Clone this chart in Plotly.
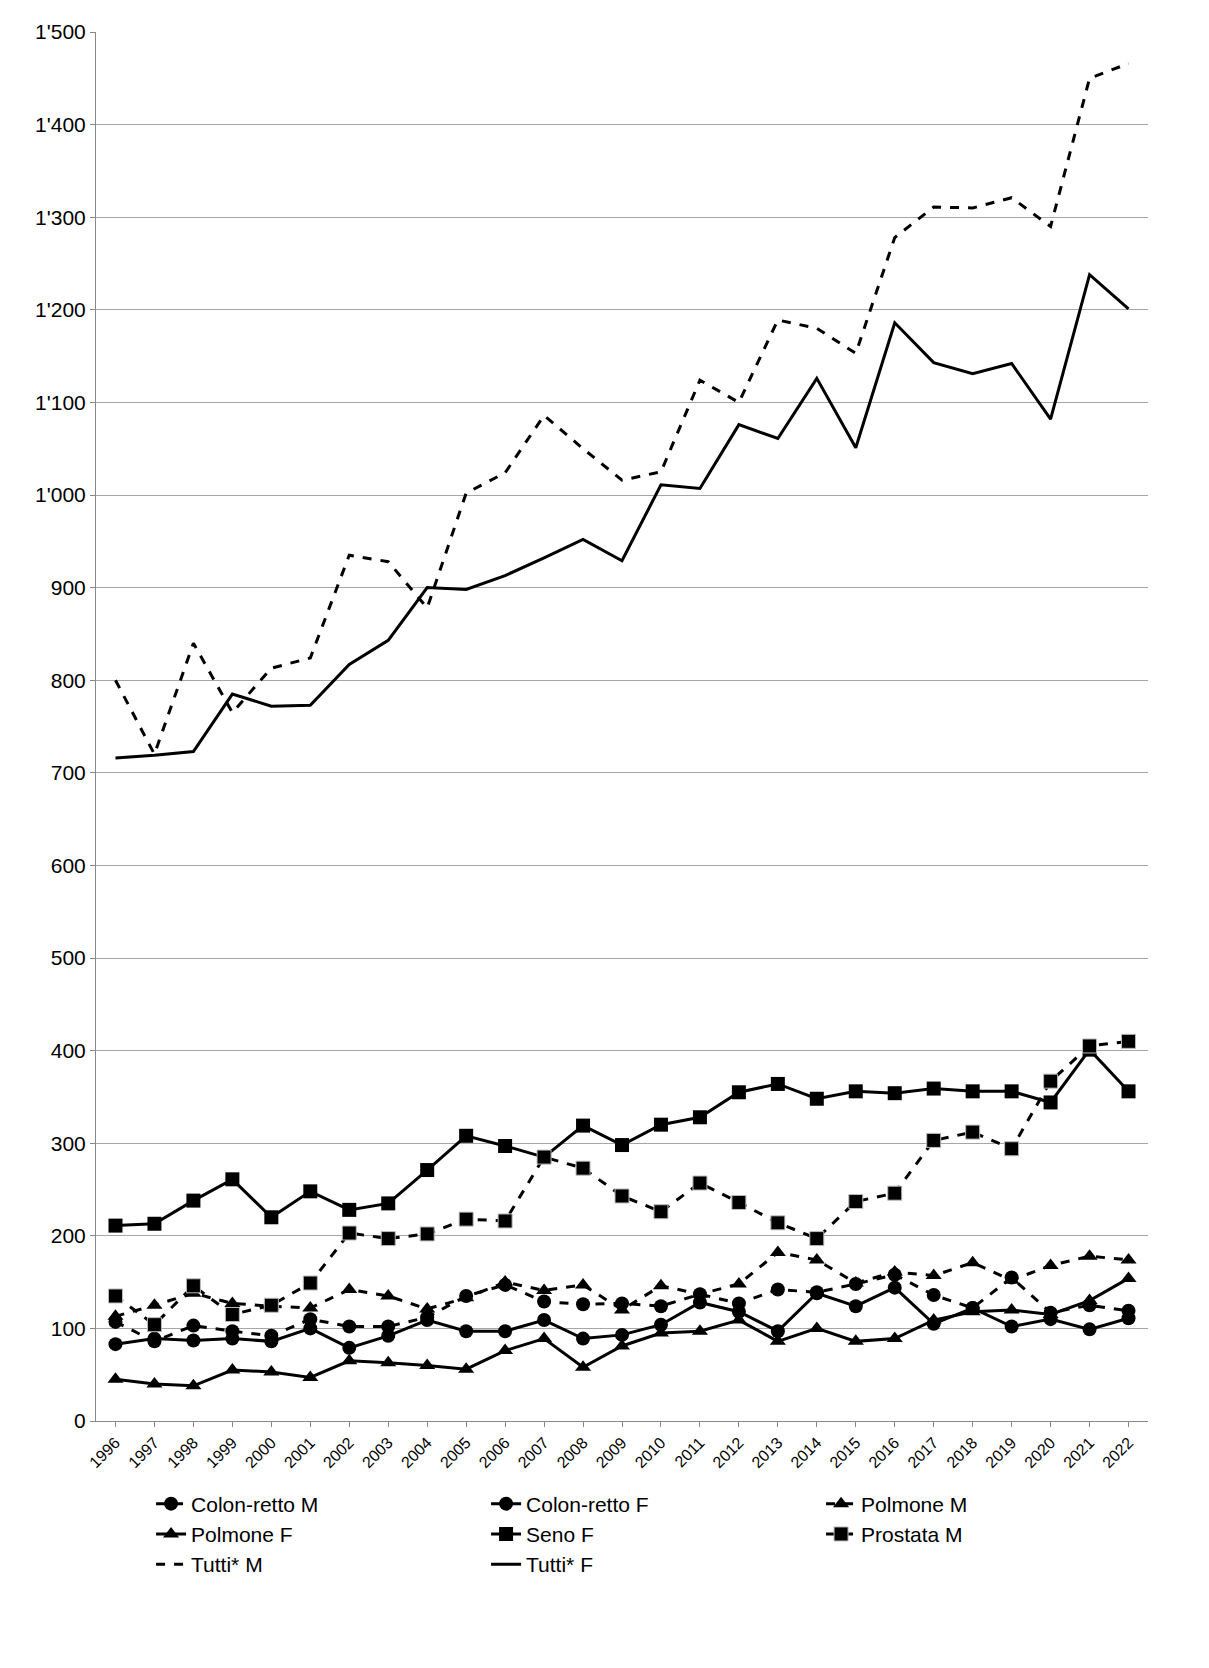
import plotly.graph_objects as go

years = [str(y) for y in range(1996, 2023)]

tutti_m = [800, 720, 840, 765, 813, 824, 935, 928, 878, 1002, 1024, 1086, 1050, 1016, 1025,
           1124, 1100, 1189, 1180, 1153, 1278, 1311, 1310, 1321, 1290, 1450, 1466]
tutti_f = [716, 719, 723, 785, 772, 773, 817, 843, 900, 898, 913, 932, 952, 929, 1011,
           1007, 1076, 1061, 1126, 1051, 1186, 1143, 1131, 1142, 1082, 1238, 1201]
seno_f = [211, 213, 238, 261, 220, 248, 228, 235, 271, 308, 297, 285, 319, 298, 320,
          328, 355, 364, 348, 356, 354, 359, 356, 356, 344, 401, 356]
prostata_m = [135, 104, 146, 115, 125, 149, 203, 197, 202, 218, 216, 285, 273, 243, 226,
              257, 236, 214, 197, 237, 246, 303, 312, 294, 367, 405, 410]
polmone_m = [113, 125, 138, 127, 124, 122, 142, 135, 121, 133, 150, 141, 147, 120, 146,
             137, 148, 182, 174, 149, 161, 157, 171, 152, 168, 178, 174]
colon_m = [107, 86, 103, 97, 92, 110, 102, 102, 112, 135, 147, 129, 126, 127, 124,
           137, 127, 142, 139, 148, 158, 136, 122, 155, 117, 125, 119]
colon_f = [83, 89, 87, 89, 86, 100, 79, 92, 109, 97, 97, 109, 89, 93, 104,
           128, 118, 97, 138, 124, 144, 105, 122, 102, 110, 99, 111]
polmone_f = [45, 40, 38, 55, 53, 47, 65, 63, 60, 56, 76, 89, 58, 81, 95,
             97, 109, 86, 100, 86, 89, 109, 118, 120, 115, 130, 154]

y_ticks = list(range(0, 1501, 100))
y_labels = [f"{v:,}".replace(",", "'") for v in y_ticks]

series = [
    ("Colon-retto M", colon_m, "dash", "circle"),
    ("Colon-retto F", colon_f, "solid", "circle"),
    ("Polmone M", polmone_m, "dash", "triangle-up"),
    ("Polmone F", polmone_f, "solid", "triangle-up"),
    ("Seno F", seno_f, "solid", "square"),
    ("Prostata M", prostata_m, "dash", "square"),
    ("Tutti* M", tutti_m, "dash", None),
    ("Tutti* F", tutti_f, "solid", None),
]

fig = go.Figure()
for name, vals, dash, sym in series:
    fig.add_trace(go.Scatter(
        x=years, y=vals, name=name,
        mode="lines+markers" if sym else "lines",
        line=dict(color="black", width=3, dash=dash),
        marker=dict(symbol=sym or "circle", size=14, color="black",
                    line=dict(color="#bbbbbb", width=1) if name == "Prostata M" else dict(width=0)),
    ))

fig.update_layout(
    width=1209, height=1668,
    plot_bgcolor="white", paper_bgcolor="white",
    font=dict(family="Liberation Sans, Arial", size=21, color="black"),
    margin=dict(l=88, r=69, t=20, b=255),
    showlegend=True,
    legend=dict(orientation="h", x=0.53, xanchor="center", y=-0.045, yanchor="top",
                entrywidth=290, font=dict(size=21), tracegroupgap=0),
    xaxis=dict(tickangle=-45, tickfont=dict(size=16), showgrid=False, showline=True,
               linecolor="#888888", ticks="outside", ticklen=5, tickcolor="#888888",
               range=[-0.5, 26.5]),
    yaxis=dict(range=[0, 1500], tickvals=y_ticks, ticktext=y_labels, showgrid=True,
               gridcolor="#a6a6a6", gridwidth=1, showline=True, linecolor="#888888",
               zeroline=False, ticks="outside", ticklen=5, tickcolor="#888888"),
)

fig.write_html("out.html")
